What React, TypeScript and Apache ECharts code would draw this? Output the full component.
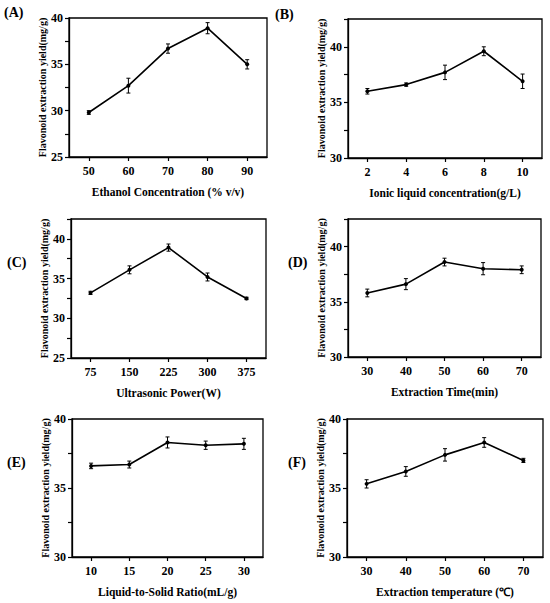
import React, { useEffect, useRef } from "react";
import * as echarts from "echarts";

const xA = ["50", "60", "70", "80", "90"];
const yA = [29.8, 32.7, 36.7, 38.9, 35.0];
const eA = [0.2, 0.8, 0.5, 0.6, 0.5];

const xB = ["2", "4", "6", "8", "10"];
const yB = [36.0, 36.6, 37.7, 39.6, 36.9];
const eB = [0.25, 0.15, 0.65, 0.4, 0.65];

const xC = ["75", "150", "225", "300", "375"];
const yC = [33.2, 36.1, 38.9, 35.2, 32.5];
const eC = [0.2, 0.5, 0.45, 0.5, 0.15];

const xD = ["30", "40", "50", "60", "70"];
const yD = [35.8, 36.6, 38.6, 38.0, 37.9];
const eD = [0.35, 0.5, 0.35, 0.55, 0.35];

const xE = ["10", "15", "20", "25", "30"];
const yE = [36.6, 36.7, 38.3, 38.1, 38.2];
const eE = [0.2, 0.25, 0.4, 0.3, 0.4];

const xF = ["30", "40", "50", "60", "70"];
const yF = [35.3, 36.2, 37.4, 38.3, 37.0];
const eF = [0.3, 0.35, 0.45, 0.35, 0.15];

const panelLabels = ["(A)", "(B)", "(C)", "(D)", "(E)", "(F)"];
const xNames = [
  "Ethanol Concentration (% v/v)",
  "Ionic liquid concentration(g/L)",
  "Ultrasonic Power(W)",
  "Extraction Time(min)",
  "Liquid-to-Solid Ratio(mL/g)",
  "Extraction temperature (℃)",
];
const yName = "Flavonoid extraction yield(mg/g)";
const yRanges = [
  [25, 40],
  [30, 42.5],
  [25, 42.5],
  [30, 42.5],
  [30, 40],
  [30, 40],
];

const panels = [
  { x: xA, y: yA, e: eA },
  { x: xB, y: yB, e: eB },
  { x: xC, y: yC, e: eC },
  { x: xD, y: yD, e: eD },
  { x: xE, y: yE, e: eE },
  { x: xF, y: yF, e: eF },
];

// layout (pixels)
const grids = [
  { left: 69, top: 18, width: 198, height: 139 },
  { left: 348, top: 19, width: 194, height: 139 },
  { left: 71, top: 219, width: 195, height: 139 },
  { left: 348, top: 219, width: 193, height: 138 },
  { left: 72, top: 419, width: 191, height: 138 },
  { left: 347, top: 419, width: 196, height: 138 },
];
const labelPos = [
  [4, 13],
  [275, 15],
  [7, 263],
  [288, 263],
  [7, 463],
  [288, 463],
];

const FONT = "'Liberation Serif', 'Times New Roman', serif";

export default function App() {
  const ref = useRef<HTMLDivElement>(null);
  useEffect(() => {
    if (!ref.current) return;
    const chart = echarts.init(ref.current, null, { renderer: "svg" });
    const grid: any[] = [];
    const xAxis: any[] = [];
    const yAxis: any[] = [];
    const series: any[] = [];
    const graphic: any[] = [];
    panels.forEach((p, i) => {
      grid.push({
        ...grids[i],
        show: true,
        borderColor: "#000",
        borderWidth: 1.3,
        backgroundColor: "transparent",
      });
      xAxis.push({
        type: "category",
        gridIndex: i,
        data: p.x,
        boundaryGap: true,
        name: xNames[i],
        nameLocation: "middle",
        nameGap: 29,
        nameTextStyle: { fontFamily: FONT, fontWeight: "bold", fontSize: 11.5, color: "#000" },
        axisLine: { show: true, lineStyle: { color: "#000", width: 1.3 } },
        axisTick: { show: true, alignWithLabel: true, length: 4, lineStyle: { color: "#000", width: 1.2 } },
        axisLabel: { fontFamily: FONT, fontWeight: "bold", fontSize: 12, color: "#000", margin: 8 },
        splitLine: { show: false },
      });
      yAxis.push({
        type: "value",
        gridIndex: i,
        min: yRanges[i][0],
        max: yRanges[i][1],
        interval: 2.5,
        name: yName,
        nameLocation: "middle",
        nameGap: 22,
        nameTextStyle: { fontFamily: FONT, fontWeight: "bold", fontSize: 10, color: "#000" },
        axisLine: { show: true, lineStyle: { color: "#000", width: 1.3 } },
        axisTick: { show: true, length: 4, lineStyle: { color: "#000", width: 1.2 } },
        axisLabel: {
          fontFamily: FONT,
          fontWeight: "bold",
          fontSize: 12,
          color: "#000",
          margin: 6,
          formatter: (v: number) => (Math.abs(v % 5) < 1e-6 ? String(v) : ""),
        },
        splitLine: { show: false },
      });
      series.push({
        type: "line",
        xAxisIndex: i,
        yAxisIndex: i,
        data: p.y,
        symbol: "circle",
        symbolSize: 4,
        lineStyle: { color: "#000", width: 1.6 },
        itemStyle: { color: "#000" },
        z: 3,
      });
      series.push({
        type: "custom",
        xAxisIndex: i,
        yAxisIndex: i,
        data: p.y.map((v, k) => [k, v - p.e[k], v + p.e[k]]),
        renderItem: (params: any, api: any) => {
          const x = api.value(0);
          const lo = api.coord([x, api.value(1)]);
          const hi = api.coord([x, api.value(2)]);
          const w = 2;
          const st = { stroke: "#000", lineWidth: 1 };
          return {
            type: "group",
            children: [
              { type: "line", shape: { x1: hi[0], y1: hi[1], x2: lo[0], y2: lo[1] }, style: st },
              { type: "line", shape: { x1: hi[0] - w, y1: hi[1], x2: hi[0] + w, y2: hi[1] }, style: st },
              { type: "line", shape: { x1: lo[0] - w, y1: lo[1], x2: lo[0] + w, y2: lo[1] }, style: st },
            ],
          };
        },
        z: 4,
      });
      graphic.push({
        type: "text",
        left: labelPos[i][0],
        top: labelPos[i][1] - 8,
        style: {
          text: panelLabels[i],
          fontFamily: FONT,
          fontWeight: "bold",
          fontSize: 14,
          fill: "#000",
        },
      });
    });
    chart.setOption({
      animation: false,
      backgroundColor: "#fff",
      grid,
      xAxis,
      yAxis,
      series,
      graphic,
    });
    return () => chart.dispose();
  }, []);
  return (
    <div
      ref={ref}
      style={{ position: "fixed", left: 0, top: 0, width: 550, height: 603 }}
    />
  );
}
